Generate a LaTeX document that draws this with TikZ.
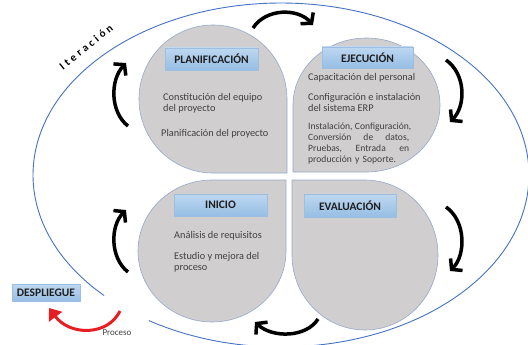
\documentclass[tikz,border=0pt]{standalone}
\usepackage{fontspec}
\setmainfont{Carlito}
\usetikzlibrary{positioning,arrows.meta}
\definecolor{colGray}{RGB}{208,206,206}
\definecolor{colGrayBorder}{RGB}{150,168,205}
\definecolor{colBlueTop}{RGB}{190,215,240}
\definecolor{colBlueBottom}{RGB}{150,190,228}
\definecolor{colBlueBorder}{RGB}{155,190,225}
\definecolor{colEllipse}{RGB}{68,114,196}
\definecolor{colRed}{RGB}{230,30,36}
\definecolor{colText}{RGB}{64,64,64}
\definecolor{colHead}{RGB}{30,30,30}
\newcommand{\jgap}{\hspace{0.25em plus 1fill}}

\begin{document}
\begin{tikzpicture}[x=1pt, y=-1pt,
  font=\fontsize{10.3}{11}\selectfont,
  petal/.style={fill=colGray, draw=colGrayBorder, line width=0.6pt},
  phase/.style={rectangle, draw=colBlueBorder, top color=colBlueTop, bottom color=colBlueBottom,
    minimum width=93pt, minimum height=22pt, inner sep=0pt,
    font=\fontsize{11.5}{12}\selectfont\bfseries, text=colHead},
  desc/.style={anchor=base west, align=left, inner sep=0pt, text=colText},
  cyc/.style={line width=3.5pt, -{Straight Barb[length=7pt,width=17pt]}},
  procarrow/.style={colRed, line width=3pt, -{Triangle[length=11pt,width=16pt]}}]
  \useasboundingbox (0,0) rectangle (528,345);

  % blue loop, open at the exit
  \draw[colEllipse, line width=0.9pt] (281,175) ++(135.5:248 and 172)
    arc[start angle=135.5, end angle=482.2, x radius=248, y radius=172];
  \node[rotate=39, font=\fontsize{11}{11}\selectfont\bfseries\addfontfeature{LetterSpace=28}] (iter) at (86,47) {Iteración};

  % the four petals
  \draw[petal] (287,173) -- (213,173) arc[start angle=90, end angle=360, radius=74] -- cycle;
  \draw[petal] (293,172) -- (293,105) arc[start angle=180, end angle=450, x radius=73.5, y radius=67] -- cycle;
  \draw[petal] (286,180) -- (212,180) arc[start angle=-90, end angle=-360, x radius=74, y radius=71] -- cycle;
  \draw[petal] (292,180) -- (365,180) arc[start angle=270, end angle=540, x radius=73, y radius=75] -- cycle;

  \node[phase] (plan) at (211.5,59) {PLANIFICACIÓN};
  \node[phase, minimum width=91pt, minimum height=21pt] (ejec) at (367.5,57.5) {EJECUCIÓN};
  \node[phase] (ini) at (220.5,205) {INICIO};
  \node[phase, minimum width=92pt, minimum height=23pt] (eval) at (350,205.5) {EVALUACIÓN};

  \node[desc] (plan1) at (163,112) {Constitución del equipo\\del proyecto};
  \node[desc] (plan2) at (161,136) {Planificación del proyecto};
  \node[desc] (ejec1) at (308,81) {Capacitación del personal};
  \node[desc] (ejec2) at (308,112) {Configuración e instalación\\del sistema ERP};
  \node[desc, text width=101pt, font=\fontsize{9.6}{11}\selectfont] (ejec3) at (308,129) {%
    \makebox[101pt][l]{Instalación,\jgap Configuración,}\\
    \makebox[101pt][l]{Conversión\jgap de\jgap datos,}\\
    \makebox[101pt][l]{Pruebas,\jgap Entrada\jgap en}\\
    producción y Soporte.};
  \node[desc] (ini1) at (174,238) {Análisis de requisitos};
  \node[desc] (ini2) at (174,270) {Estudio y mejora del\\proceso};

  % cycle arrows
  \coordinate (c1s) at (128,126); \coordinate (c1e) at (126,63);
  \coordinate (c2s) at (253,28);  \coordinate (c2e) at (313,25);
  \coordinate (c3s) at (446,60);  \coordinate (c3e) at (450,122);
  \coordinate (c4s) at (446,207); \coordinate (c4e) at (450,271);
  \coordinate (c5s) at (318,319); \coordinate (c5e) at (255,322);
  \coordinate (c6s) at (128,272); \coordinate (c6e) at (126,210);
  \draw[cyc] (c1s) .. controls (110,112) and (110,80) .. (c1e);
  \draw[cyc] (c2s) .. controls (266,8) and (298,8) .. (c2e);
  \draw[cyc] (c3s) .. controls (466,74) and (466,106) .. (c3e);
  \draw[cyc] (c4s) .. controls (466,221) and (466,255) .. (c4e);
  \draw[cyc] (c5s) .. controls (306,338) and (272,338) .. (c5e);
  \draw[cyc] (c6s) .. controls (110,258) and (110,226) .. (c6e);

  % exit
  \node[phase, minimum width=68pt, minimum height=17pt] (desp) at (46,293) {DESPLIEGUE};
  \coordinate (rs) at (120,311); \coordinate (re) at (49,308);
  \draw[procarrow] (rs) .. controls (108,336) and (70,336) .. (re);
  \node[font=\fontsize{9}{9}\selectfont, text=colText] (proc) at (117,333) {Proceso};
\end{tikzpicture}
\end{document}
